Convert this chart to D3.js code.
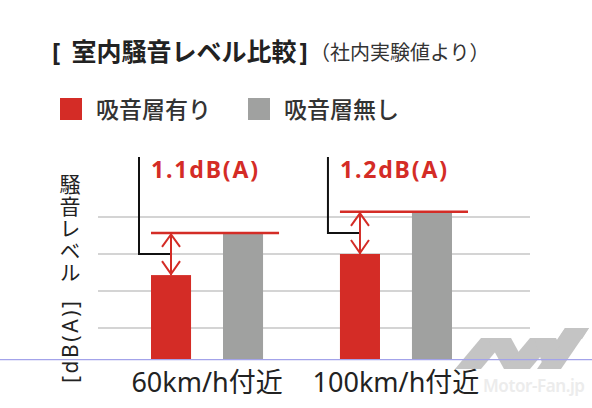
<!DOCTYPE html>
<html>
<head>
<meta charset="utf-8">
<script src="https://cdn.jsdelivr.net/npm/d3@7"></script>
<style>
  html, body { margin: 0; padding: 0; background: #fff; }
  svg { display: block; }
  text { font-family: "Noto Sans", "Noto Sans CJK JP", sans-serif; }
</style>
</head>
<body>
<svg id="chart" width="592" height="408"></svg>
<script>
// ---- data ----
const categories = ["60km/h付近", "100km/h付近"];
const series = ["吸音層有り", "吸音層無し"];
const withAbsorber = [62.43, 63.0];
const withoutAbsorber = [63.57, 64.14];
const diffLabels = ["1.1dB(A)", "1.2dB(A)"];
const gridTicks = [61, 62, 63, 64];
const yMin = 60.16;
const titleText = "室内騒音レベル比較";
const subtitleText = "（社内実験値より）";
const yLabelUpright = "騒音レベル";
const yLabelRotated = "[dB(A)]";

const colors = { "吸音層有り": "#d42c26", "吸音層無し": "#a0a1a0" };
const red = "#d42c26";
const cjk = "'Noto Sans CJK JP', sans-serif";

const svg = d3.select("#chart");

// scales
const x0 = d3.scaleBand().domain(categories).range([151, 452]).paddingInner(0.407).paddingOuter(0);
const x1 = d3.scaleBand().domain(series).range([0, x0.bandwidth()]).paddingInner(0.444).paddingOuter(0);
const y = d3.scaleLinear().domain([61, 64]).range([328, 217]);

// title
const title = svg.append("text").attr("y", 61)
  .attr("font-size", 25).attr("font-weight", 700).attr("fill", "#222")
  .attr("font-family", cjk);
title.append("tspan").attr("x", 52).text("[");
title.append("tspan").attr("x", 71.5).text(titleText);
title.append("tspan").attr("x", 299.5).text("]");
svg.append("text").attr("x", 310).attr("y", 60)
  .attr("font-size", 20).attr("fill", "#333")
  .attr("font-family", cjk)
  .text(subtitleText);

// legend
const legendX = [60, 248];
series.forEach((s, i) => {
  svg.append("rect").attr("x", legendX[i]).attr("y", 98).attr("width", 22).attr("height", 22).attr("fill", colors[s]);
  svg.append("text").attr("x", legendX[i] + 36).attr("y", 118)
    .attr("font-size", 23).attr("fill", "#333").attr("font-weight", 500)
    .attr("font-family", cjk)
    .text(s);
});

// gridlines
svg.append("g").selectAll("line").data(gridTicks).join("line")
  .attr("x1", 98).attr("x2", 530)
  .attr("y1", d => y(d)).attr("y2", d => y(d))
  .attr("stroke", "#c6c6c6").attr("stroke-width", 1.5);

// watermark logo (behind bars)
const wm = svg.append("g").attr("fill", "#c4c4c4");
wm.append("polygon").attr("points", "455,369 481,369 507,338 481,338");
wm.append("polygon").attr("points", "487,338 511,338 528,369 504,369");
wm.append("polygon").attr("points", "504,369 530,369 556,338 530,338");
wm.append("polygon").attr("points", "534,338 556,338 566,358 550,369 544,369");
wm.append("polygon").attr("points", "537,369 561,369 589,328 565,328");
wm.append("polygon").attr("points", "565,328 589,328 582,339 558,339");
wm.append("polygon").attr("points", "560,345 576,345 571,352 555,352");

// bars
const groups = svg.append("g").selectAll("g").data(categories).join("g")
  .attr("transform", d => `translate(${x0(d)},0)`);
groups.selectAll("rect").data((d, i) => [
    { s: series[0], v: withAbsorber[i] },
    { s: series[1], v: withoutAbsorber[i] }
  ]).join("rect")
  .attr("x", d => x1(d.s))
  .attr("width", x1.bandwidth())
  .attr("y", d => y(d.v))
  .attr("height", d => y(yMin) - y(d.v))
  .attr("fill", d => colors[d.s]);

// baseline
svg.append("line").attr("x1", 0).attr("x2", 592)
  .attr("y1", y(yMin) + 0.5).attr("y2", y(yMin) + 0.5)
  .attr("stroke", "#a3a3ea").attr("stroke-width", 1.2);

// difference annotations
categories.forEach((c, i) => {
  const rx = x0(c) + x1(series[0]);
  const cx = rx + x1.bandwidth() / 2;
  const gx = x0(c) + x1(series[1]) + x1.bandwidth();
  const yr = y(withAbsorber[i]);
  const yg = y(withoutAbsorber[i]);
  const mid = (yr + yg) / 2;
  const g = svg.append("g");
  g.append("line").attr("x1", rx).attr("x2", gx + 16).attr("y1", yg).attr("y2", yg)
    .attr("stroke", red).attr("stroke-width", 2.5);
  g.append("path").attr("d", `M${rx - 12},157 V${mid} H${cx}`)
    .attr("fill", "none").attr("stroke", "#111").attr("stroke-width", 2);
  g.append("line").attr("x1", cx).attr("x2", cx).attr("y1", yg + 1).attr("y2", yr)
    .attr("stroke", red).attr("stroke-width", 2);
  g.append("path").attr("d", `M${cx - 9},${yg + 14} L${cx},${yg + 1.5} L${cx + 9},${yg + 14}`)
    .attr("fill", "none").attr("stroke", red).attr("stroke-width", 2);
  g.append("path").attr("d", `M${cx - 9},${yr - 14} L${cx},${yr - 1} L${cx + 9},${yr - 14}`)
    .attr("fill", "none").attr("stroke", red).attr("stroke-width", 2);
  g.append("text").attr("x", rx).attr("y", 178)
    .attr("font-size", 23).attr("font-weight", 700).attr("fill", red)
    .attr("textLength", 107)
    .text(diffLabels[i]);
});

// watermark text (faint), placed after the second category label
svg.append("text").attr("x", 483).attr("y", 392).attr("font-size", 17).attr("font-weight", 600)
  .attr("fill", "#ececec").attr("textLength", 102).text("Motor-Fan.jp");

// category labels
svg.append("g").selectAll("text").data(categories).join("text")
  .attr("x", d => x0(d) + x0.bandwidth() / 2).attr("y", 392)
  .attr("text-anchor", "middle").attr("font-size", 27).attr("fill", "#222")
  .text(d => d);

// y-axis label
const yl = svg.append("g").attr("fill", "#222");
yl.append("text").attr("x", 69).attr("y", 174)
  .attr("font-size", 21).attr("font-family", cjk)
  .style("writing-mode", "vertical-rl").style("text-orientation", "upright")
  .attr("letter-spacing", 0.8)
  .text(yLabelUpright);
yl.append("text").attr("transform", "translate(78,383) rotate(-90)")
  .attr("font-size", 21).attr("textLength", 82).text(yLabelRotated);
</script>
</body>
</html>
